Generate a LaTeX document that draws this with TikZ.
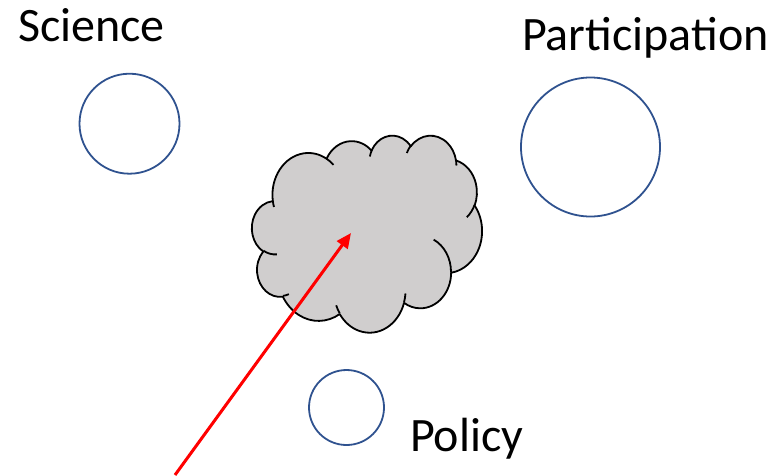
\documentclass[tikz,border=0pt]{standalone}
\usepackage{fontspec}
\setmainfont{Carlito}
\usetikzlibrary{arrows.meta}
\definecolor{circblue}{HTML}{2F528F}
\definecolor{cloudgray}{HTML}{D0CECE}
\definecolor{arrowred}{HTML}{FF0000}
% OOXML-style arc: wR, hR, start angle, sweep (geometric angles)
\newcommand\oarc[4]{arc[x radius=#1, y radius=#2, start angle={atan2(#1*sin(#3),#2*cos(#3))}, delta angle={mod(atan2(#1*sin(#3+#4),#2*cos(#3+#4))-atan2(#1*sin(#3),#2*cos(#3))+540,360)-180}]}
\begin{document}
\begin{tikzpicture}[x=1pt,y=-1pt,
  bluecirc/.style={circle,draw=circblue,line width=1.8pt,inner sep=0pt},
  lbl/.style={font=\fontsize{48}{52}\selectfont, anchor=base west, inner sep=0pt, outer sep=0pt},
  cloudline/.style={line width=1.8pt, line join=round, draw=black}]
\useasboundingbox (0,0) rectangle (781,475);
\node[bluecirc, minimum size=100pt] (science) at (129.5,123.7) {};
\node[bluecirc, minimum size=139pt] (participation) at (590.5,147) {};
\node[bluecirc, minimum size=75pt] (policy) at (346.5,407.5) {};
\node[lbl] (sciencelabel) at (18,41.7) {Science};
\node[lbl] (participationlabel) at (522,50) {Participation};
\node[lbl] (policylabel) at (410,451.7) {Policy};
\begin{scope}[shift={(252pt,-135pt)}, x=0.5324pt, y=-0.4560pt]
 \filldraw[cloudline, fill=cloudgray] (39.00,143.70)
   \oarc{67.53}{91.90}{-190.4875}{123.7805}
   \oarc{53.33}{72.67}{-144.1024}{89.9452}
   \oarc{43.65}{59.45}{-145.8079}{99.7230}
   \oarc{48.57}{65.95}{-130.9861}{117.2417}
   \oarc{53.33}{72.73}{-78.7089}{109.0269}
   \oarc{67.75}{92.20}{-46.2673}{130.2690}
   \oarc{57.85}{78.67}{0.6250}{114.0333}
   \oarc{67.52}{92.15}{22.4516}{115.1726}
   \oarc{77.20}{105.43}{66.2426}{75.7110}
   \oarc{43.60}{59.18}{-274.9421}{146.7356}
   \oarc{43.45}{59.45}{-246.8285}{152.5189}
   -- cycle;
 \draw[cloudline]
   (46.93,261.77) \oarc{43.45}{59.45}{86.7420}{26.4295}
   (69.28,348.99) \oarc{43.60}{59.18}{73.6105}{11.4475}
   (164.78,390.90) \oarc{67.52}{92.15}{137.6242}{14.0811}
   (288.27,347.51) \oarc{67.52}{92.15}{6.4533}{15.9984}
   (341.29,229.54) \oarc{57.85}{78.67}{-70.2924}{70.9174}
   (417.98,153.54) \oarc{53.33}{72.73}{30.3180}{27.7515}
   (383.24,54.26) \oarc{48.57}{65.95}{-13.7443}{14.8589}
   (290.78,39.52) \oarc{48.57}{65.95}{-149.1815}{18.1954}
   (221.41,47.20) \oarc{43.65}{59.45}{-163.4943}{17.6864}
   (140.00,51.92) \oarc{67.53}{91.90}{-66.7070}{12.3194}
   (41.27,157.89) \oarc{67.53}{91.90}{157.6544}{11.8582};
\end{scope}
\coordinate (arrowstart) at (175,475);
\coordinate (arrowtip) at (351,233);
\draw[arrowred, line width=3pt, -{Triangle[length=15pt,width=13pt]}] (arrowstart) -- (arrowtip);
\end{tikzpicture}
\end{document}
